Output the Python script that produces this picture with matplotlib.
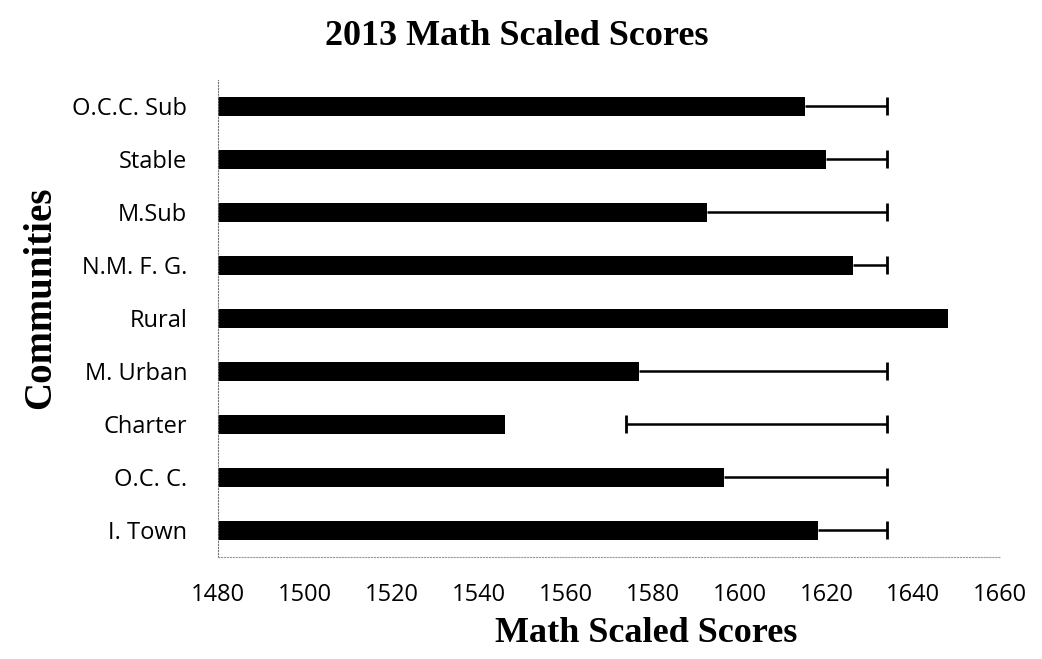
import matplotlib.pyplot as plt
import numpy as np

# communities, bottom to top as drawn
communities = ["I. Town", "O.C. C.", "Charter", "M. Urban", "Rural",
               "N.M. F. G.", "M.Sub", "Stable", "O.C.C. Sub"]
scores = [1618, 1596.5, 1546, 1577, 1648, 1626, 1592.5, 1620, 1615]

# error bar ends (left, right); Rural has none visible
err_left = [1618, 1596.5, 1574, 1577, np.nan, 1626, 1592.5, 1620, 1615]
err_right = [1634, 1634, 1634, 1634, np.nan, 1634, 1634, 1634, 1634]

xticks = list(range(1480, 1661, 20))

fig = plt.figure(figsize=(10.42, 6.59), dpi=100)
ax = fig.add_axes([0.209, 0.155, 0.751, 0.724])

y = np.arange(len(communities))
sc = np.array(scores)
lo = np.array(err_left)
hi = np.array(err_right)

ax.barh(y, sc, height=0.35, color="black", left=0)

# error lines, cap at the right end; a left cap only where it sits off the bar
ax.hlines(y, lo, hi, color="black", lw=1.8)
ax.plot(hi, y, ls="none", marker="|", ms=13, mew=2, color="black")
off = lo > sc
ax.plot(lo[off], y[off], ls="none", marker="|", ms=13, mew=2, color="black")

ax.set_xlim(1480, 1660)
ax.set_ylim(-0.5, len(communities) - 0.5)
ax.set_xticks(xticks)
ax.set_yticks(y)
ax.set_yticklabels(communities)
ax.tick_params(length=0, labelsize=17)
ax.tick_params(axis="x", pad=19)
ax.tick_params(axis="y", pad=22)
for lab in ax.get_xticklabels() + ax.get_yticklabels():
    lab.set_family("Open Sans")

for s in ["top", "right"]:
    ax.spines[s].set_visible(False)
ax.spines["left"].set_linestyle(":")
ax.spines["left"].set_color("#777777")
ax.spines["bottom"].set_linestyle(":")
ax.spines["bottom"].set_color("#999999")

fig.text(0.496, 0.945, "2013 Math Scaled Scores", family="Liberation Serif",
         fontweight="bold", fontsize=26, ha="center", va="center")
ax.set_xlabel("Math Scaled Scores", family="Liberation Serif",
              fontweight="bold", fontsize=26, va="center")
ax.xaxis.set_label_coords(0.547, -0.16)
ax.set_ylabel("Communities", family="Liberation Serif",
              fontweight="bold", fontsize=28, va="center")
ax.yaxis.set_label_coords(-0.226, 0.543)

fig.savefig("out.png", dpi=100)
